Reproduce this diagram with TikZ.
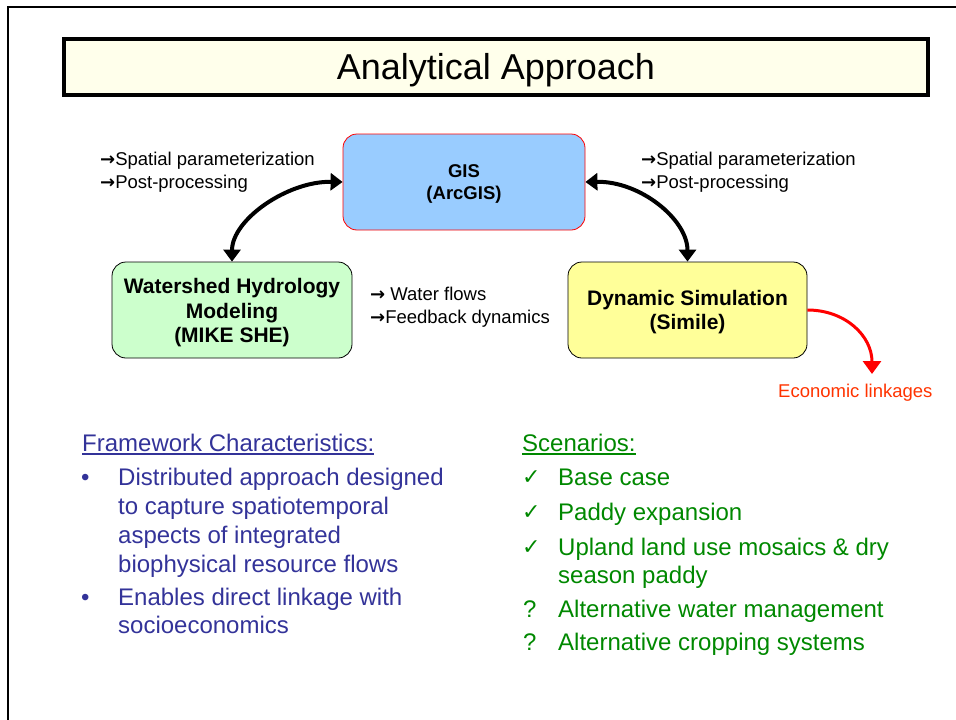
\documentclass[tikz,border=0pt]{standalone}
\usepackage{fontspec}
\setmainfont{Liberation Sans}
\newfontfamily\djv{DejaVu Sans}
\usetikzlibrary{arrows.meta}
\definecolor{titlefill}{RGB}{255,255,235}
\definecolor{gisblue}{RGB}{153,204,255}
\definecolor{wsgreen}{RGB}{204,255,204}
\definecolor{dynyellow}{RGB}{255,255,153}
\definecolor{fwblue}{RGB}{51,51,153}
\definecolor{scgreen}{RGB}{0,136,0}
\definecolor{econred}{RGB}{255,51,0}
\newcommand{\rarr}{{\djv\bfseries\fontsize{18}{20}\selectfont →}}
\tikzset{
  boxnode/.style={draw, line width=0.8, rounded corners=14pt, align=center, inner sep=0,
    font=\bfseries\fontsize{21}{24.5}\selectfont},
  lbl/.style={anchor=base west, inner sep=0, font=\fontsize{18.5}{22}\selectfont},
  bigtxt/.style={anchor=base west, inner sep=0, font=\fontsize{24}{29}\selectfont},
  chk/.style={anchor=base west, inner sep=0, text=scgreen, font=\djv\fontsize{22}{24}\selectfont},
  dblarrow/.style={line width=4, {Triangle[width=17pt,length=12pt]}-{Triangle[width=17pt,length=12pt]}},
}
\begin{document}
\begin{tikzpicture}[x=1pt,y=-1pt]
\useasboundingbox (0,0) rectangle (956,720);
% slide frame
\draw[line width=2] (8,724) -- (8,7) -- (960,7);
% title
\node[draw, line width=4, fill=titlefill, minimum width=864, minimum height=56, inner sep=0] (title) at (496,67) {};
\node[anchor=base, inner sep=0, font=\fontsize{36}{40}\selectfont] (titletext) at (496,79) {Analytical Approach};
% boxes
\node[boxnode, draw=red, fill=gisblue, minimum width=242, minimum height=96,
  font=\bfseries\fontsize{18.5}{22}\selectfont] (gis) at (464,182) {\rule{0pt}{16pt}GIS\\(ArcGIS)};
\node[boxnode, fill=wsgreen, minimum width=240, minimum height=96] (ws) at (232,310)
  {\rule{0pt}{21pt}Watershed Hydrology\\Modeling\\(MIKE SHE)};
\node[boxnode, fill=dynyellow, minimum width=239, minimum height=96] (dyn) at (687.5,310)
  {\rule{0pt}{19.5pt}Dynamic Simulation\\(Simile)};
% arrows
\draw[dblarrow] (gis.west) .. controls +(-55,-1) and +(0,-42) .. (ws.north);
\draw[dblarrow] (gis.east) .. controls +(55,-1) and +(0,-42) .. (dyn.north);
\coordinate (econend) at (872,374);
\draw[red, line width=3, -{Triangle[width=18pt,length=13pt]}] (dyn.east) .. controls +(38,0) and +(0,-38) .. (econend);
% labels
\node[lbl] (l1) at (100,165) {\rarr Spatial parameterization};
\node[lbl] (l2) at (100,188) {\rarr Post-processing};
\node[lbl] (r1) at (641,165) {\rarr Spatial parameterization};
\node[lbl] (r2) at (641,188) {\rarr Post-processing};
\node[lbl] (m1) at (370,300) {\rarr\ Water flows};
\node[lbl] (m2) at (370,323) {\rarr Feedback dynamics};
\node[lbl, text=econred] (econ) at (778,397) {Economic linkages};
% framework characteristics
\node[bigtxt, text=fwblue] (fw) at (82,451) {Framework Characteristics:};
\draw[fwblue, line width=1.5] ([yshift=-2.5pt]fw.south west) -- ([yshift=-2.5pt]fw.south east);
\node[bigtxt, text=fwblue] (fb1) at (81,485) {•};
\node[bigtxt, text=fwblue] (f1) at (118,485) {Distributed approach designed};
\node[bigtxt, text=fwblue] (f2) at (118,514) {to capture spatiotemporal};
\node[bigtxt, text=fwblue] (f3) at (118,543) {aspects of integrated};
\node[bigtxt, text=fwblue] (f4) at (118,572) {biophysical resource flows};
\node[bigtxt, text=fwblue] (fb2) at (81,605) {•};
\node[bigtxt, text=fwblue] (f5) at (118,605) {Enables direct linkage with};
\node[bigtxt, text=fwblue] (f6) at (118,633) {socioeconomics};
% scenarios
\node[bigtxt, text=scgreen] (sc) at (522,451) {Scenarios:};
\draw[scgreen, line width=1.5] ([yshift=-2.5pt]sc.south west) -- ([yshift=-2.5pt]sc.south east);
\node[chk] (c1) at (522,484) {✓};
\node[bigtxt, text=scgreen] (s1) at (558,485) {Base case};
\node[chk] (c2) at (522,519) {✓};
\node[bigtxt, text=scgreen] (s2) at (558,520) {Paddy expansion};
\node[chk] (c3) at (522,554) {✓};
\node[bigtxt, text=scgreen] (s3) at (558,555) {Upland land use mosaics \& dry};
\node[bigtxt, text=scgreen] (s4) at (558,583) {season paddy};
\node[bigtxt, text=scgreen] (q1) at (523,617) {?};
\node[bigtxt, text=scgreen] (s5) at (558,617) {Alternative water management};
\node[bigtxt, text=scgreen] (q2) at (523,650) {?};
\node[bigtxt, text=scgreen] (s6) at (558,650) {Alternative cropping systems};
\end{tikzpicture}
\end{document}
